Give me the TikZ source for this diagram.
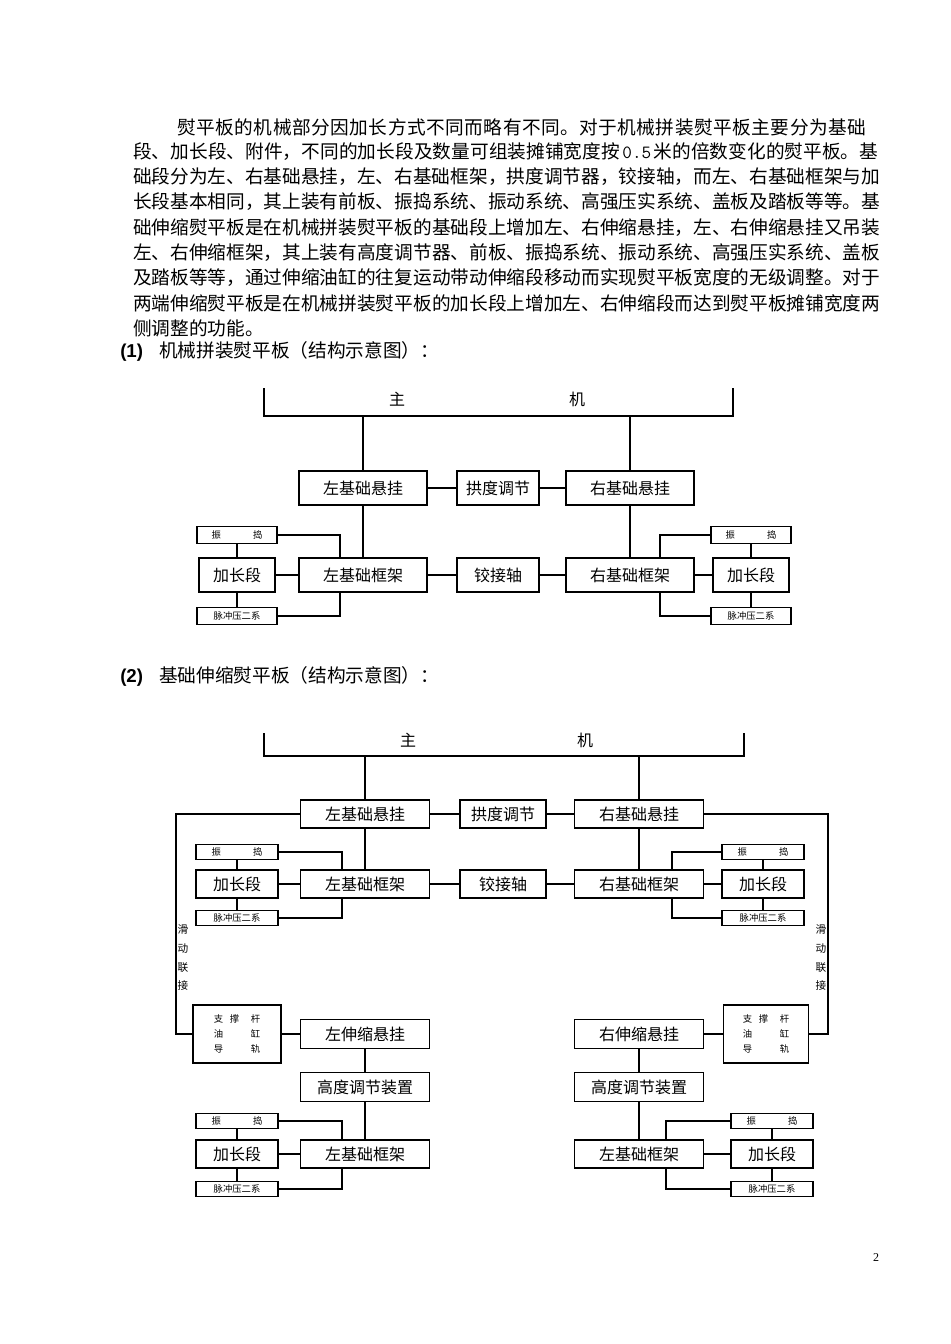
\documentclass[tikz,border=0pt]{standalone}
\usepackage{fontspec}
\setmainfont{Noto Sans CJK SC}
\newfontfamily\latinsans{Liberation Sans}
\newfontfamily\latinserif{Liberation Serif}
\XeTeXlinebreaklocale "zh"
\XeTeXlinebreakskip=0pt plus 1pt
\tikzset{
  txt/.style={inner sep=0pt, anchor=west, font=\fontsize{14}{14}\selectfont},
  bx/.style={draw, line width=1pt, inner sep=0pt, font=\fontsize{12}{12}\selectfont},
  sbx/.style={draw, line width=0.9pt, inner sep=0pt, font=\fontsize{7}{7}\selectfont},
  d1big/.style={bx, minimum width=96pt, minimum height=25.5pt},
  d1mid/.style={bx, minimum width=61.5pt, minimum height=25.5pt},
  d1jc/.style={bx, minimum width=57pt, minimum height=25.5pt},
  d1small/.style={sbx, minimum width=60pt, minimum height=13pt},
  d2big/.style={bx, minimum width=96.75pt, minimum height=21pt},
  d2mid/.style={bx, minimum width=64.5pt, minimum height=21pt},
  d2jc/.style={bx, minimum width=61.5pt, minimum height=21pt},
  d2small/.style={sbx, minimum width=61.5pt, minimum height=11pt},
  ln/.style={line width=0.8pt},
  thk/.style={line width=1.6pt},
  bar/.style={line width=1.3pt},
}
\newcommand{\zdtext}{振\hspace{24pt}捣}
\newcommand{\mctext}{脉冲压二系}
\newcommand{\zctext}{支\hspace{5pt}撑\hspace{8.75pt}杆\\油\hspace{20.75pt}缸\\导\hspace{20.75pt}轨}
\begin{document}
\begin{tikzpicture}[x=0.75pt,y=-0.75pt]
  \useasboundingbox (0,0) rectangle (950,1344);

  % paragraph
  \foreach \y/\x/\w/\t in {
    127/177/527.25/{熨平板的机械部分因加长方式不同而略有不同。对于机械拼装熨平板主要分为基础},
    152/133/560.25/{段、加长段、附件，不同的加长段及数量可组装摊铺宽度按\hspace{1.8pt}{\ttfamily 0.5}\hspace{1.8pt}米的倍数变化的熨平板。基},
    177/133/560.25/{础段分为左、右基础悬挂，左、右基础框架，拱度调节器，铰接轴，而左、右基础框架与加},
    202/133/560.25/{长段基本相同，其上装有前板、振捣系统、振动系统、高强压实系统、盖板及踏板等等。基},
    228/133/560.25/{础伸缩熨平板是在机械拼装熨平板的基础段上增加左、右伸缩悬挂，左、右伸缩悬挂又吊装},
    253/133/560.25/{左、右伸缩框架，其上装有高度调节器、前板、振捣系统、振动系统、高强压实系统、盖板},
    278/133/560.25/{及踏板等等，通过伸缩油缸的往复运动带动伸缩段移动而实现熨平板宽度的无级调整。对于},
    303/133/560.25/{两端伸缩熨平板是在机械拼装熨平板的加长段上增加左、右伸缩段而达到熨平板摊铺宽度两}}
    \node[txt, text width=\w pt] at (\x,\y) {\noindent\parfillskip=0pt \t\endgraf};
  \node[txt] (p9) at (133,328) {侧调整的功能。};
  \node[txt] (h1) at (120,351) {{\latinsans\bfseries (1)}\hspace{12pt}机械拼装熨平板（结构示意图）：};
  \node[txt] (h2) at (120,676) {{\latinsans\bfseries (2)}\hspace{12pt}基础伸缩熨平板（结构示意图）：};

  % diagram 1
  \draw[bar] (264,388) -- (264,416) -- (733,416) -- (733,388);
  \node[font=\fontsize{12}{12}\selectfont] (zhu1) at (397,399) {主};
  \node[font=\fontsize{12}{12}\selectfont] (ji1) at (577,399) {机};
  \coordinate (t1l) at (363,416);
  \coordinate (t1r) at (630,416);

  \node[d1big] (lxg1) at (363,488) {左基础悬挂};
  \node[d1mid] (gd1) at (498,488) {拱度调节};
  \node[d1big] (rxg1) at (630,488) {右基础悬挂};
  \node[d1jc] (jc1l) at (237,575) {加长段};
  \node[d1big] (lkj1) at (363,575) {左基础框架};
  \node[d1mid] (jj1) at (498,575) {铰接轴};
  \node[d1big] (rkj1) at (630,575) {右基础框架};
  \node[d1jc] (jc1r) at (751,575) {加长段};
  \node[d1small] (zd1l) at (237,535) {\zdtext};
  \node[d1small] (mc1l) at (237,616) {\mctext};
  \node[d1small] (zd1r) at (751,535) {\zdtext};
  \node[d1small] (mc1r) at (751,616) {\mctext};

  \draw[ln] (t1l) -- (lxg1);
  \draw[ln] (t1r) -- (rxg1);
  \draw[ln] (lxg1) -- (gd1) -- (rxg1);
  \draw[ln] (lxg1) -- (lkj1);
  \draw[ln] (rxg1) -- (rkj1);
  \draw[ln] (jc1l) -- (lkj1) -- (jj1) -- (rkj1) -- (jc1r);
  \draw[ln] (zd1l) -- (jc1l) -- (mc1l);
  \draw[ln] (zd1r) -- (jc1r) -- (mc1r);
  \draw[ln] (zd1l.east) -| ([xshift=-17.25pt]lkj1.north);
  \draw[ln] (mc1l.east) -| ([xshift=-17.25pt]lkj1.south);
  \draw[ln] (zd1r.west) -| ([xshift=22.5pt]rkj1.north);
  \draw[ln] (mc1r.west) -| ([xshift=22.5pt]rkj1.south);

  % diagram 2
  \draw[bar] (264,733) -- (264,756) -- (744,756) -- (744,733);
  \node[font=\fontsize{12}{12}\selectfont] (zhu2) at (408,740) {主};
  \node[font=\fontsize{12}{12}\selectfont] (ji2) at (585,740) {机};
  \coordinate (t2l) at (365,756);
  \coordinate (t2r) at (639,756);

  \node[d2big] (lxg2) at (365,814) {左基础悬挂};
  \node[d2mid] (gd2) at (503,814) {拱度调节};
  \node[d2big] (rxg2) at (639,814) {右基础悬挂};
  \node[d2jc] (jc2l) at (237,884) {加长段};
  \node[d2big] (lkj2) at (365,884) {左基础框架};
  \node[d2mid] (jj2) at (503,884) {铰接轴};
  \node[d2big] (rkj2) at (639,884) {右基础框架};
  \node[d2jc] (jc2r) at (763,884) {加长段};
  \node[d2small] (zd2l) at (237,852) {\zdtext};
  \node[d2small] (mc2l) at (237,918) {\mctext};
  \node[d2small] (zd2r) at (763,852) {\zdtext};
  \node[d2small] (mc2r) at (763,918) {\mctext};

  \node[sbx, minimum width=66pt, minimum height=43.5pt, align=left,
        font=\fontsize{7}{11.25}\selectfont] (zc2l) at (237,1034) {\zctext};
  \node[sbx, minimum width=64pt, minimum height=43.5pt, align=left,
        font=\fontsize{7}{11.25}\selectfont] (zc2r) at (766,1034) {\zctext};
  \node[align=center, inner sep=0pt, font=\fontsize{8}{14}\selectfont] (hd2l) at (183,958) {滑\\动\\联\\接};
  \node[align=center, inner sep=0pt, font=\fontsize{8}{14}\selectfont] (hd2r) at (821,958) {滑\\动\\联\\接};
  \coordinate (o2l) at (176,1034);
  \coordinate (o2r) at (828,1034);

  \node[d2big, minimum height=21.75pt] (lss2) at (365,1034) {左伸缩悬挂};
  \node[d2big, minimum height=21.75pt] (rss2) at (639,1034) {右伸缩悬挂};
  \node[d2big, minimum height=21.75pt] (gt2l) at (365,1087) {高度调节装置};
  \node[d2big, minimum height=21.75pt] (gt2r) at (639,1087) {高度调节装置};

  \node[d2jc] (jc3l) at (237,1154) {加长段};
  \node[d2big] (lkj3) at (365,1154) {左基础框架};
  \node[d2big] (rkj3) at (639,1154) {左基础框架};
  \node[d2jc] (jc3r) at (772,1154) {加长段};
  \node[d2small] (zd3l) at (237,1121) {\zdtext};
  \node[d2small] (mc3l) at (237,1189) {\mctext};
  \node[d2small] (zd3r) at (772,1121) {\zdtext};
  \node[d2small] (mc3r) at (772,1189) {\mctext};

  \draw[ln] (t2l) -- (lxg2);
  \draw[ln] (t2r) -- (rxg2);
  \draw[ln] (lxg2) -- (gd2) -- (rxg2);
  \draw[ln] (lxg2) -- (lkj2);
  \draw[ln] (rxg2) -- (rkj2);
  \draw[thk] (jc2l) -- (lkj2) -- (jj2) -- (rkj2) -- (jc2r);
  \draw[ln] (zd2l) -- (jc2l) -- (mc2l);
  \draw[ln] (zd2r) -- (jc2r) -- (mc2r);
  \draw[ln] (zd2l.east) -| ([xshift=-17.25pt]lkj2.north);
  \draw[ln] (mc2l.east) -| ([xshift=-17.25pt]lkj2.south);
  \draw[ln] (zd2r.west) -| ([xshift=24.75pt]rkj2.north);
  \draw[ln] (mc2r.west) -| ([xshift=24.75pt]rkj2.south);

  \draw[ln] (lxg2.west) -| (o2l) -- (zc2l.west);
  \draw[ln] (rxg2.east) -| (o2r) -- (zc2r.east);
  \draw[ln] (zc2l) -- (lss2);
  \draw[ln] (rss2) -- (zc2r);
  \draw[ln] (lss2) -- (gt2l) -- (lkj3);
  \draw[ln] (rss2) -- (gt2r) -- (rkj3);
  \draw[thk] (jc3l) -- (lkj3);
  \draw[thk] (rkj3) -- (jc3r);
  \draw[ln] (zd3l) -- (jc3l) -- (mc3l);
  \draw[ln] (zd3r) -- (jc3r) -- (mc3r);
  \draw[ln] (zd3l.east) -| ([xshift=-17.25pt]lkj3.north);
  \draw[ln] (mc3l.east) -| ([xshift=-17.25pt]lkj3.south);
  \draw[ln] (zd3r.west) -| ([xshift=20.25pt]rkj3.north);
  \draw[ln] (mc3r.west) -| ([xshift=20.25pt]rkj3.south);

  \node[font=\latinserif\fontsize{9}{9}\selectfont] (pg) at (876,1258) {2};
\end{tikzpicture}
\end{document}
